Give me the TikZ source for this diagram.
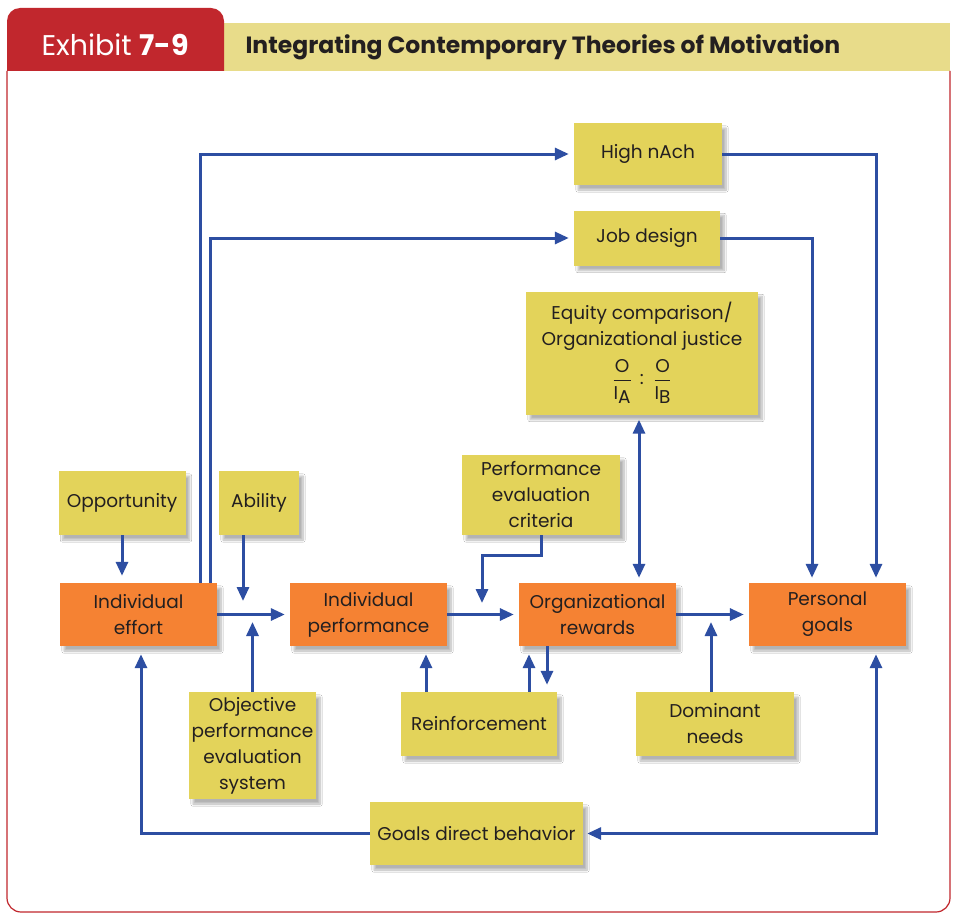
\documentclass[tikz,border=0pt]{standalone}
\usepackage{amsmath}
\usepackage{fontspec}
\setmainfont{Poppins}
\usetikzlibrary{arrows.meta,shadows.blur}
\definecolor{exred}{HTML}{C1272D}
\definecolor{barback}{HTML}{E8DC8A}
\definecolor{boxyellow}{HTML}{E3D35A}
\definecolor{boxorange}{HTML}{F58233}
\definecolor{flowblue}{HTML}{2D4EA2}
\definecolor{inktext}{HTML}{231F20}
\newcommand{\ratio}[1]{$\dfrac{\text{O\rule[-3pt]{0pt}{3pt}}}{\text{\rule{0pt}{17pt}I\raisebox{-4pt}{#1}}}$}
\tikzset{
  basebox/.style={inner sep=2pt, align=center, text=inktext,
    font=\fontsize{18.5}{26}\selectfont,
    blur shadow={shadow xshift=4pt, shadow yshift=-5pt, shadow blur steps=8, shadow opacity=30}},
  orangebox/.style={basebox, fill=boxorange, minimum width=157pt, minimum height=63pt},
  yellowbox/.style={basebox, fill=boxyellow},
  flow/.style={draw=flowblue, line width=3pt, -{Triangle[length=14pt,width=12pt]}, shorten >=5pt}
}
\begin{document}
\begin{tikzpicture}[x=1pt,y=-1pt]
\useasboundingbox (0,0) rectangle (955,915);
\fill[white] (0,0) rectangle (955,915);
% header
\fill[barback] (224,23) rectangle (950,71);
\fill[exred] (7,71) {[rounded corners=13pt] -- (7,8) -- (224,8)} -- (224,71) -- cycle;
\draw[exred, line width=1.2pt] (7,71) {[rounded corners=14pt] -- (7,912) -- (950,912)} -- (950,71);
\node[anchor=west, text=white, font=\fontsize{28.5}{30}\selectfont] (exhibit) at (38,45) {Exhibit \textbf{7-9}};
\node[anchor=west, text=inktext, font=\fontsize{23.5}{25}\selectfont\bfseries] (title) at (242,47) {Integrating Contemporary Theories of Motivation};
% boxes
\node[yellowbox, minimum width=148pt, minimum height=62pt] (nach) at (648,154) {High nAch};
\node[yellowbox, minimum width=146pt, minimum height=55pt] (job) at (647,238) {Job design};
\node[yellowbox, minimum width=232pt, minimum height=123pt] (equity) at (642,353)
  {Equity comparison/\\Organizational justice\\[8pt]
   \ratio{A} \,:\, \ratio{B}};
\node[yellowbox, minimum width=158pt, minimum height=80pt] (criteria) at (541,495) {Performance\\evaluation\\criteria};
\node[yellowbox, minimum width=127pt, minimum height=64pt] (opport) at (122,503) {Opportunity};
\node[yellowbox, minimum width=80pt, minimum height=64pt] (ability) at (259,503) {Ability};
\node[orangebox] (effort) at (138.5,614.5) {Individual\\effort};
\node[orangebox] (perform) at (368.5,614.5) {Individual\\performance};
\node[orangebox] (rewards) at (597.5,614.5) {Organizational\\rewards};
\node[orangebox] (personal) at (827.5,614.5) {Personal\\goals};
\node[yellowbox, minimum width=127pt, minimum height=107pt] (objective) at (252.5,745.5) {Objective\\performance\\evaluation\\system};
\node[yellowbox, minimum width=156pt, minimum height=64pt] (reinf) at (479,724) {Reinforcement};
\node[yellowbox, minimum width=158pt, minimum height=64pt] (dominant) at (715,724) {Dominant\\needs};
\node[yellowbox, minimum width=213pt, minimum height=63pt] (direct) at (476.5,833.5) {Goals direct behavior};
% free ends and line positions
\coordinate (upA) at (200,0);
\coordinate (upB) at (210,0);
\coordinate (downA) at (876,0);
\coordinate (downB) at (812,0);
\coordinate (eqx) at (639,0);
\coordinate (abilityend) at (243,601);
\coordinate (objend) at (252.5,622);
\coordinate (critend) at (482,603);
\coordinate (domend) at (711,622);
% connectors
\draw[flow] (effort.east) -- (perform.west);
\draw[flow] (perform.east) -- (rewards.west);
\draw[flow] (rewards.east) -- (personal.west);
\draw[flow, shorten >=7pt] (opport.south) -- (opport.south |- effort.north);
\draw[flow, shorten >=0pt] (ability.south -| abilityend) -- (abilityend);
\draw[flow, shorten >=0pt] (objective.north) -- (objend);
\draw[flow] (effort.north -| upA) |- (nach.west);
\draw[flow] (effort.north -| upB) |- (job.west);
\draw[flow] (nach.east) -| (personal.north -| downA);
\draw[flow] (job.east) -| (personal.north -| downB);
\draw[flow, {Triangle[length=14pt,width=12pt]}-{Triangle[length=14pt,width=12pt]}, shorten <=5pt]
  (equity.south -| eqx) -- (rewards.north -| eqx);
\draw[flow, shorten >=0pt] (criteria.south) -- ++(0,20) -| (critend);
\draw[flow, shorten >=8pt] (reinf.north -| 426,0) -- (perform.south -| 426,0);
\draw[flow, shorten >=8pt] (reinf.north -| 529,0) -- (rewards.south -| 529,0);
\draw[flow, shorten >=7pt] (rewards.south -| 547,0) -- (reinf.north -| 547,0);
\draw[flow, shorten >=0pt] (dominant.north -| domend) -- (domend);
\draw[flow, shorten >=8pt] (direct.west) -| (effort.south -| 141,0);
\draw[flow, {Triangle[length=14pt,width=12pt]}-{Triangle[length=14pt,width=12pt]}, shorten <=4pt, shorten >=8pt]
  (direct.east) -| (personal.south -| downA);
\end{tikzpicture}
\end{document}
